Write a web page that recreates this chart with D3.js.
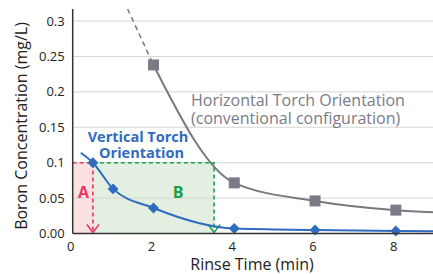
<!DOCTYPE html>
<html>
<head>
<meta charset="utf-8">
<script src="https://cdn.jsdelivr.net/npm/d3@7"></script>
<style>
  body { margin: 0; background: #fff; }
  svg { display: block; font-family: "Open Sans", sans-serif; }
</style>
</head>
<body>
<svg width="433" height="274"></svg>
<script>
// rinse time (min) / boron (mg/L)
var horizTime = [2, 4, 6, 8];
var horizBoron = [0.238, 0.0715, 0.046, 0.033];
var horizLineTime = [2, 4, 6, 8, 8.92];
var horizLineBoron = [0.238, 0.0715, 0.046, 0.033, 0.030];
var horizDashTime = [1.36, 2];
var horizDashBoron = [0.317, 0.238];

var vertTime = [0.5, 1, 2, 4, 6, 8];
var vertBoron = [0.1, 0.063, 0.036, 0.007, 0.005, 0.0035];
var vertLineTime = [0.2, 0.5, 1, 2, 4, 6, 8, 8.92];
var vertLineBoron = [0.114, 0.1, 0.063, 0.036, 0.007, 0.005, 0.0035, 0.003];

var xTicks = [0, 2, 4, 6, 8];
var yTicks = [0, 0.05, 0.1, 0.15, 0.2, 0.25, 0.3];
var yTickLabels = ["0.00", "0.05", "0.1", "0.15", "0.2", "0.25", "0.3"];

var level = 0.1, timeA = 0.5, timeB = 3.5;

const svg = d3.select("svg"),
  margin = {top: 9, right: 0, bottom: 40.5, left: 72.7},
  width = +svg.attr("width") - margin.left - margin.right,
  height = +svg.attr("height") - margin.top - margin.bottom,
  x = d3.scaleLinear().domain([0, 8.92]).range([0, width]),
  y = d3.scaleLinear().domain([0, 0.317]).range([height, 0]),
  g = svg.append("g").attr("transform", `translate(${margin.left},${margin.top})`);

// shaded regions A and B
g.append("rect")
  .attr("x", x(0)).attr("y", y(level))
  .attr("width", x(timeA) - x(0)).attr("height", y(0) - y(level))
  .attr("fill", "#fbe1e1");
g.append("rect")
  .attr("x", x(timeA)).attr("y", y(level))
  .attr("width", x(timeB) - x(timeA)).attr("height", y(0) - y(level))
  .attr("fill", "#e3f0e1");

// grid
g.selectAll(".grid").data(yTicks.slice(1)).enter().append("line")
  .attr("x1", 0).attr("x2", width)
  .attr("y1", d => y(d)).attr("y2", d => y(d))
  .attr("stroke", "#d6d6d6").attr("stroke-width", 1);

// dashed guides
const red = "#e8385f", green = "#1aa44b";
g.append("path")
  .attr("d", `M0,${y(level)}H${x(timeA)}V${y(0) - 1}`)
  .attr("fill", "none").attr("stroke", red).attr("stroke-width", 1.6)
  .attr("stroke-dasharray", "4,3");
g.append("path")
  .attr("d", `M${x(timeA)},${y(level)}H${x(timeB)}V${y(0) - 1}`)
  .attr("fill", "none").attr("stroke", green).attr("stroke-width", 1.6)
  .attr("stroke-dasharray", "4,3");
// arrow heads
[[timeA, red], [timeB, green]].forEach(function(a) {
  g.append("path")
    .attr("d", `M${x(a[0]) - 6},${y(0) - 9}L${x(a[0])},${y(0) - 1}L${x(a[0]) + 6},${y(0) - 9}`)
    .attr("fill", "none").attr("stroke", a[1]).attr("stroke-width", 1.5);
});

// lines
const line = d3.line().x(d => x(d[0])).y(d => y(d[1])).curve(d3.curveMonotoneX);
g.append("path")
  .datum(horizDashTime.map((t, i) => [t, horizDashBoron[i]]))
  .attr("d", d3.line().x(d => x(d[0])).y(d => y(d[1])))
  .attr("fill", "none").attr("stroke", "#777880").attr("stroke-width", 1.5)
  .attr("stroke-dasharray", "5,4");
g.append("path")
  .datum(horizLineTime.map((t, i) => [t, horizLineBoron[i]]))
  .attr("d", line)
  .attr("fill", "none").attr("stroke", "#777880").attr("stroke-width", 2);
g.append("path")
  .datum(vertLineTime.map((t, i) => [t, vertLineBoron[i]]))
  .attr("d", line)
  .attr("fill", "none").attr("stroke", "#2f6cc0").attr("stroke-width", 2);

// markers
g.selectAll(".sq").data(horizTime).enter().append("rect")
  .attr("x", d => x(d) - 5.5).attr("y", (d, i) => y(horizBoron[i]) - 5.5)
  .attr("width", 11).attr("height", 11)
  .attr("fill", "#7a7b87");
g.selectAll(".dia").data(vertTime).enter().append("path")
  .attr("d", d3.symbol().type(d3.symbolSquare).size(60))
  .attr("transform", (d, i) => `translate(${x(d)},${y(vertBoron[i])}) rotate(45)`)
  .attr("fill", "#2f6cc0");

// axes
g.append("line").attr("x1", 0).attr("x2", width).attr("y1", height).attr("y2", height)
  .attr("stroke", "#333").attr("stroke-width", 1.5);
g.append("line").attr("x1", 0).attr("x2", 0).attr("y1", 0).attr("y2", height)
  .attr("stroke", "#333").attr("stroke-width", 1.5);

g.selectAll(".yl").data(yTicks).enter().append("text")
  .attr("x", -8).attr("y", d => y(d)).attr("dy", "0.35em")
  .attr("text-anchor", "end").attr("font-size", 13).attr("fill", "#222")
  .text((d, i) => yTickLabels[i]);
g.selectAll(".xl").data(xTicks).enter().append("text")
  .attr("x", d => x(d) - 2).attr("y", height + 17)
  .attr("text-anchor", "middle").attr("font-size", 13).attr("fill", "#222")
  .text(d => d);

svg.append("text")
  .attr("transform", `translate(27,126) rotate(-90)`)
  .attr("text-anchor", "middle").attr("font-size", 16).attr("fill", "#222")
  .text("Boron Concentration (mg/L)");
svg.append("text")
  .attr("x", 252).attr("y", 270)
  .attr("text-anchor", "middle").attr("font-size", 16).attr("fill", "#222")
  .text("Rinse Time (min)");

// annotations
svg.append("text").attr("x", 191).attr("y", 106)
  .attr("font-size", 16).attr("fill", "#7a7b87").text("Horizontal Torch Orientation");
svg.append("text").attr("x", 191).attr("y", 124)
  .attr("font-size", 16).attr("fill", "#7a7b87").text("(conventional configuration)");
svg.append("text").attr("x", 138).attr("y", 141.5)
  .attr("text-anchor", "middle").attr("font-size", 14.5).attr("font-weight", "bold")
  .attr("fill", "#2f6cc0").text("Vertical Torch");
svg.append("text").attr("x", 141.5).attr("y", 158)
  .attr("text-anchor", "middle").attr("font-size", 14.5).attr("font-weight", "bold")
  .attr("fill", "#2f6cc0").text("Orientation");
svg.append("text").attr("x", 83.5).attr("y", 197.5)
  .attr("text-anchor", "middle").attr("font-size", 16).attr("font-weight", "bold")
  .attr("fill", red).text("A");
svg.append("text").attr("x", 178).attr("y", 197.5)
  .attr("text-anchor", "middle").attr("font-size", 16).attr("font-weight", "bold")
  .attr("fill", "#1a9e4a").text("B");
</script>
</body>
</html>
